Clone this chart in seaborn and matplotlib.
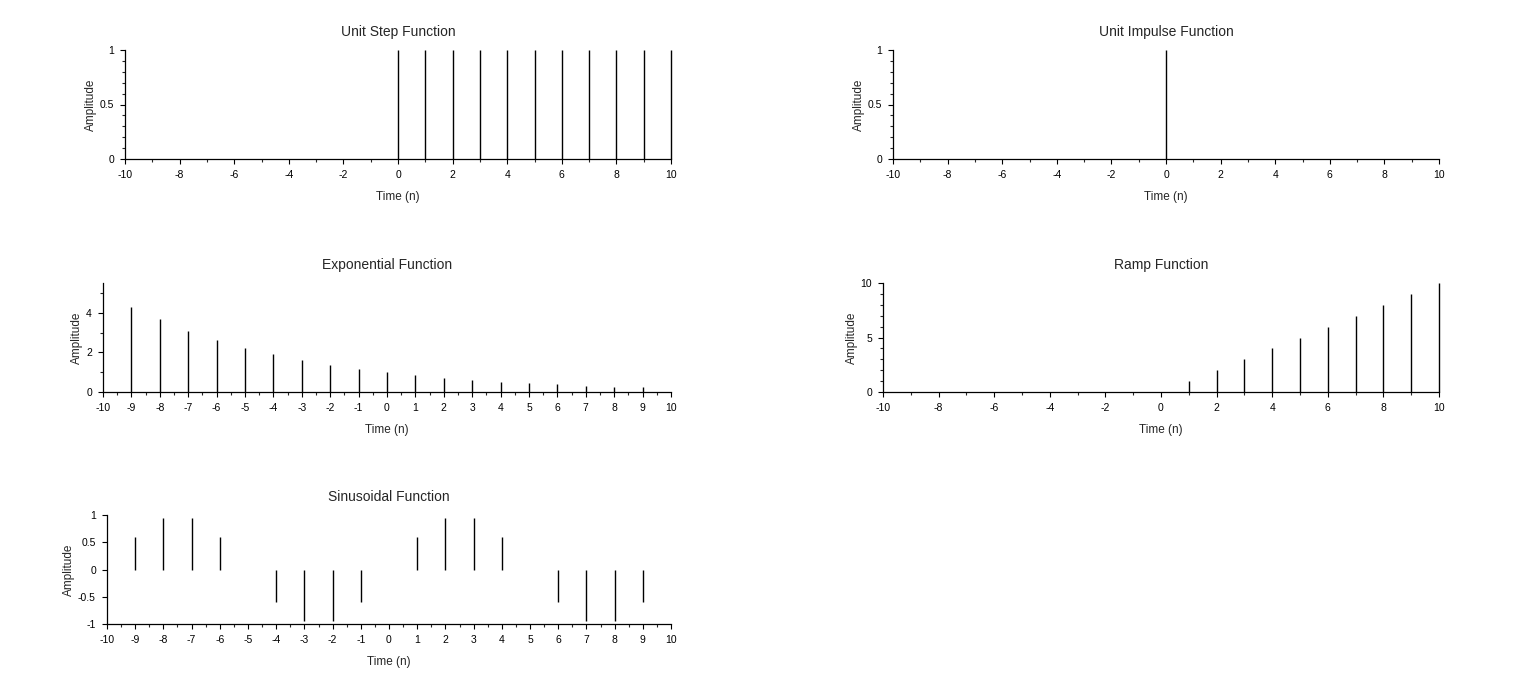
import numpy as np
import matplotlib.pyplot as plt
from matplotlib.ticker import MultipleLocator
import seaborn as sns

sns.set_theme(style='ticks')
plt.rcParams['font.family'] = ['Liberation Sans', 'DejaVu Sans']
plt.rcParams['axes.unicode_minus'] = False

# sample index
n_full = [-10, -9, -8, -7, -6, -5, -4, -3, -2, -1, 0, 1, 2, 3, 4, 5, 6, 7, 8, 9, 10]
n_mid = [-9, -8, -7, -6, -5, -4, -3, -2, -1, 0, 1, 2, 3, 4, 5, 6, 7, 8, 9]

# values
step_vals = [0, 0, 0, 0, 0, 0, 0, 0, 0, 0, 1, 1, 1, 1, 1, 1, 1, 1, 1, 1, 1]
impulse_vals = [0, 0, 0, 0, 0, 0, 0, 0, 0, 0, 1, 0, 0, 0, 0, 0, 0, 0, 0, 0, 0]
exp_vals = [4.27, 3.66, 3.1, 2.63, 2.23, 1.91, 1.63, 1.38, 1.18, 1.0,
            0.85, 0.72, 0.61, 0.52, 0.44, 0.38, 0.32, 0.27, 0.23]
ramp_vals = [0, 0, 0, 0, 0, 0, 0, 0, 0, 0, 0, 1, 2, 3, 4, 5, 6, 7, 8, 9, 10]
sin_vals = [0.59, 0.95, 0.95, 0.59, 0, -0.59, -0.95, -0.95, -0.59, 0,
            0.59, 0.95, 0.95, 0.59, 0, -0.59, -0.95, -0.95, -0.59]

W, H = 1536, 698
fig = plt.figure(figsize=(W / 100, H / 100), dpi=100)


def box(l, t, r, b):
    return [l / W, 1 - b / H, (r - l) / W, (b - t) / H]


def stem_panel(rect, n, v, title, ylim, xmaj, xmin, ymaj, ymin=None):
    ax = fig.add_axes(box(*rect))
    ax.vlines(n, 0, v, colors='black', linewidth=1.0, clip_on=False)
    ax.set_xlim(-10, 10)
    ax.set_ylim(*ylim)
    ax.xaxis.set_major_locator(MultipleLocator(xmaj))
    ax.xaxis.set_minor_locator(MultipleLocator(xmin))
    ax.yaxis.set_major_locator(MultipleLocator(ymaj))
    if ymin:
        ax.yaxis.set_minor_locator(MultipleLocator(ymin))
    ax.set_yticklabels([f'{t:g}' for t in ax.get_yticks()])
    sns.despine(ax=ax)
    for s in ['left', 'bottom']:
        ax.spines[s].set_linewidth(0.9)
        ax.spines[s].set_color('black')
    ax.tick_params(which='major', direction='out', length=3.5, width=0.8,
                   labelsize=7.5, pad=4.5, colors='black')
    ax.tick_params(which='minor', direction='out', length=2, width=0.8)
    ax.set_facecolor('white')
    ax.set_title(title, fontsize=10, pad=10)
    ax.set_xlabel('Time (n)', fontsize=8.5, labelpad=8)
    ax.set_ylabel('Amplitude', fontsize=8.5, labelpad=2)
    return ax


stem_panel((125, 50, 671, 159), n_full, step_vals, 'Unit Step Function',
           (0, 1), 2, 1, 0.5, 0.1)
stem_panel((893, 50, 1439, 159), n_full, impulse_vals, 'Unit Impulse Function',
           (0, 1), 2, 1, 0.5, 0.1)
stem_panel((103, 283, 671, 392), n_mid, exp_vals, 'Exponential Function',
           (0, 5.5), 1, 0.5, 2, 1)
stem_panel((883, 283, 1439, 392), n_full, ramp_vals, 'Ramp Function',
           (0, 10), 2, 1, 5, 1)
stem_panel((107, 515, 671, 624), n_mid, sin_vals, 'Sinusoidal Function',
           (-1, 1), 1, 0.5, 0.5)

fig.savefig('out.png', dpi=100, facecolor='white')
